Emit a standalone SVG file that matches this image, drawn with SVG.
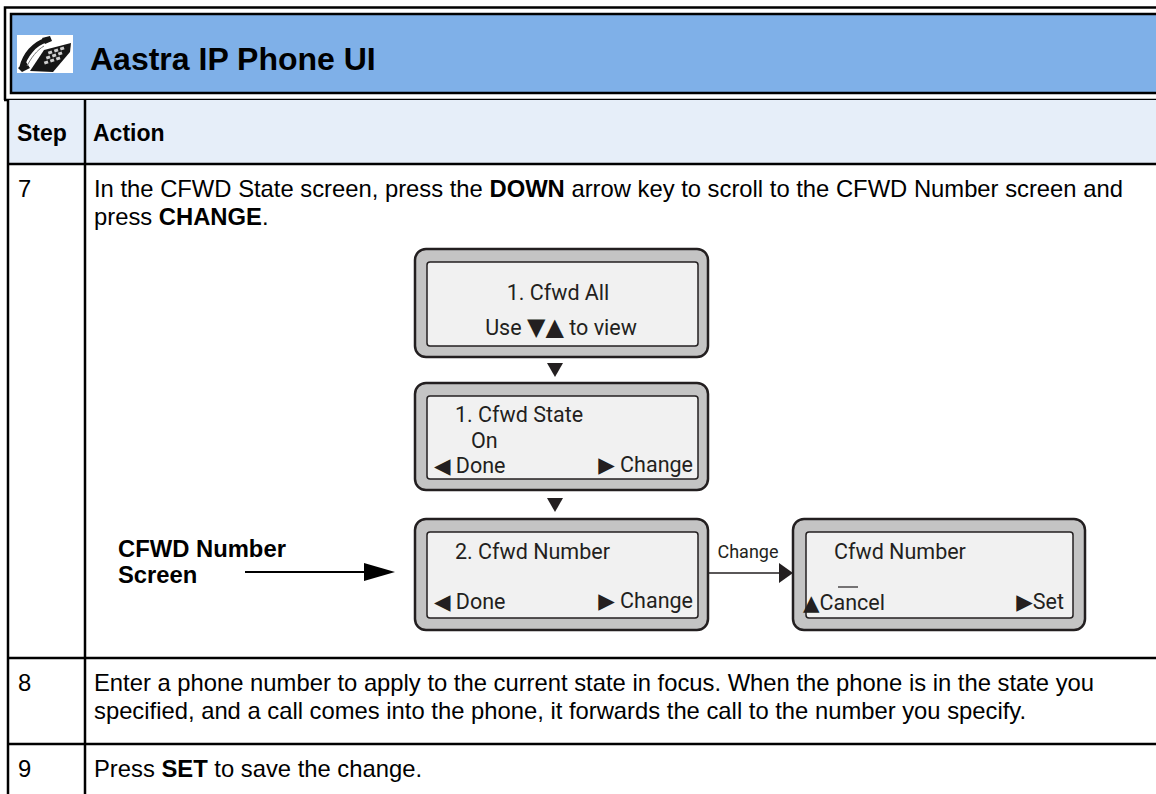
<svg xmlns="http://www.w3.org/2000/svg" width="1156" height="794" viewBox="0 0 1156 794">
<style>
.t{font-family:"Liberation Sans",Arial,sans-serif;font-size:23.8px;fill:#000}
.b{font-weight:bold}
.ph{font-family:Roboto,"Open Sans","DejaVu Sans",sans-serif;font-size:21.5px;fill:#231f20}
.ln{stroke:#000;stroke-width:2.5;fill:none}
.outer{fill:#c4c4c4;stroke:#231f20;stroke-width:2.5}
.inner{fill:#f1f1f1;stroke:#231f20;stroke-width:1.5}
</style>
<rect width="1156" height="794" fill="#fff"/>
<g id="header">
<path class="ln" d="M5,100 V7.5 H1156"/>
<rect x="11" y="14" width="1150" height="79" fill="#7fb0e8" stroke="#000" stroke-width="2.5"/>
<line class="ln" x1="4" y1="100" x2="1156" y2="100"/>
<g id="phone-icon">
<rect x="17" y="35" width="56" height="38" fill="#fff"/>
<path d="M30,71 L44,50 L71,43 L70,52 L53,72 Z" fill="#161616"/>
<g fill="#cfcfcf">
<rect x="48" y="51" width="4" height="3" transform="rotate(-20 50 52)"/>
<rect x="54" y="49" width="4" height="3" transform="rotate(-20 56 50)"/>
<rect x="60" y="47" width="4" height="3" transform="rotate(-20 62 48)"/>
<rect x="46" y="56" width="4" height="3" transform="rotate(-20 48 57)"/>
<rect x="52" y="54" width="4" height="3" transform="rotate(-20 54 55)"/>
<rect x="58" y="52" width="4" height="3" transform="rotate(-20 60 53)"/>
<rect x="44" y="61" width="4" height="3" transform="rotate(-20 46 62)"/>
<rect x="50" y="59" width="4" height="3" transform="rotate(-20 52 60)"/>
<rect x="56" y="57" width="4" height="3" transform="rotate(-20 58 58)"/>
</g>
<path d="M22,67 C25,55 34,44 46,40" stroke="#161616" stroke-width="5" fill="none" stroke-linecap="round"/>
<path d="M18,68 L26,62 L30,68 L22,72 Z" fill="#161616"/>
<path d="M42,38 L50,36 L52,41 L45,44 Z" fill="#161616"/>
<path d="M27,66 C31,58 37,50 44,46" stroke="#777" stroke-width="1" fill="none"/>
</g>
<text class="t b" x="90" y="70" style="font-size:32px">Aastra IP Phone UI</text>
</g>
<g id="table">
<rect x="8" y="100" width="1150" height="64" fill="#e6eef9"/>
<line class="ln" x1="8" y1="100" x2="8" y2="794"/>
<line class="ln" x1="85" y1="100" x2="85" y2="794"/>
<line class="ln" x1="8" y1="164" x2="1156" y2="164"/>
<line class="ln" x1="8" y1="658" x2="1156" y2="658"/>
<line class="ln" x1="8" y1="744" x2="1156" y2="744"/>
<text class="t b" x="17" y="141" style="font-size:23px">Step</text>
<text class="t b" x="93" y="141" style="font-size:23px">Action</text>
<text class="t" x="18" y="197">7</text>
<text class="t" x="94" y="197">In the CFWD State screen, press the <tspan class="b">DOWN</tspan> arrow key to scroll to the CFWD Number screen and</text>
<text class="t" x="94" y="225">press <tspan class="b">CHANGE</tspan>.</text>
<text class="t" x="18" y="691">8</text>
<text class="t" x="94" y="691">Enter a phone number to apply to the current state in focus. When the phone is in the state you</text>
<text class="t" x="94" y="719">specified, and a call comes into the phone, it forwards the call to the number you specify.</text>
<text class="t" x="18" y="777">9</text>
<text class="t" x="94" y="777">Press <tspan class="b">SET</tspan> to save the change.</text>
</g>
<g id="label-cfwd-number-screen">
<text class="t b" x="118" y="557">CFWD Number</text>
<text class="t b" x="118" y="583">Screen</text>
</g>
<g id="screen-cfwd-all">
<rect class="outer" x="415" y="249" width="293" height="108" rx="11"/>
<rect class="inner" x="427" y="262" width="271" height="84" rx="3"/>
<text class="ph" x="558" y="300" text-anchor="middle">1. Cfwd All</text>
<text class="ph" x="561" y="335" text-anchor="middle">Use <tspan style="font-size:24px">▼▲</tspan> to view</text>
</g>
<g id="screen-cfwd-state">
<rect class="outer" x="415" y="383" width="293" height="107" rx="11"/>
<rect class="inner" x="427" y="396" width="271" height="83" rx="3"/>
<text class="ph" x="455" y="422">1. Cfwd State</text>
<text class="ph" x="471" y="448">On</text>
<text class="ph" x="434" y="473">◀ Done</text>
<text class="ph" x="693" y="472" text-anchor="end">▶ Change</text>
</g>
<g id="screen-cfwd-number">
<rect class="outer" x="415" y="519" width="293" height="111" rx="11"/>
<rect class="inner" x="427" y="532" width="271" height="86" rx="3"/>
<text class="ph" x="455" y="559">2. Cfwd Number</text>
<text class="ph" x="434" y="609">◀ Done</text>
<text class="ph" x="693" y="608" text-anchor="end">▶ Change</text>
</g>
<g id="screen-cfwd-number-edit">
<rect class="outer" x="793" y="519" width="292" height="111" rx="11"/>
<rect class="inner" x="806" y="532" width="267" height="86" rx="3"/>
<text class="ph" x="834" y="559">Cfwd Number</text>
<line x1="838" y1="587" x2="858" y2="587" stroke="#231f20" stroke-width="1.2"/>
<text class="ph" x="803" y="610">▲Cancel</text>
<text class="ph" x="1064" y="609" text-anchor="end">▶Set</text>
</g>
<g id="connectors">
<polygon points="547,363 563,363 555,377" fill="#231f20"/>
<polygon points="547,498 563,498 555,512" fill="#231f20"/>
<line x1="708" y1="573" x2="782" y2="573" stroke="#231f20" stroke-width="1.5"/>
<polygon points="779,563 793,573 779,583" fill="#231f20"/>
<text class="ph" x="748" y="558" text-anchor="middle" style="font-size:18px">Change</text>
<line x1="245" y1="572" x2="368" y2="572" stroke="#000" stroke-width="2"/>
<polygon points="364,563 395,572 364,581" fill="#000"/>
</g>
</svg>
